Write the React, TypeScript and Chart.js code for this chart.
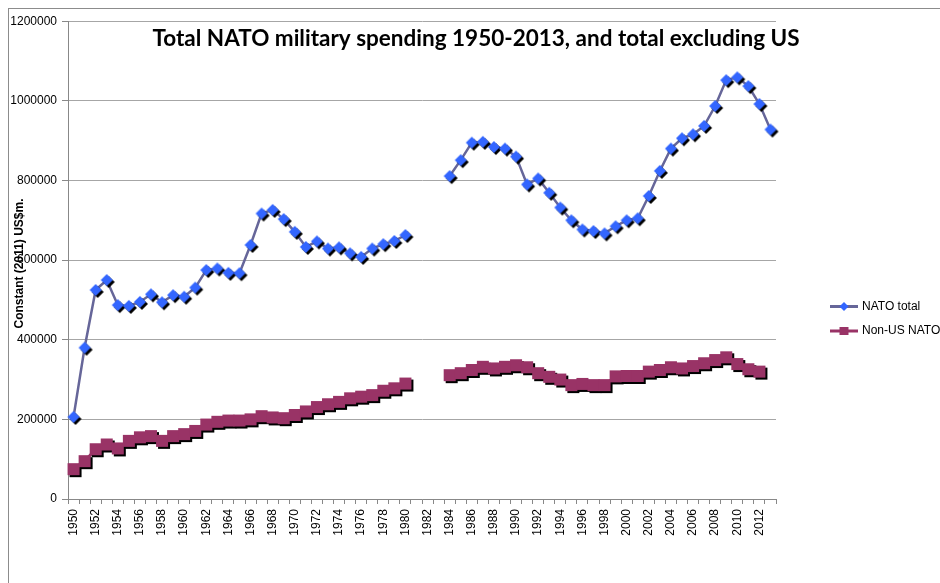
import { useEffect, useRef } from 'react';
import { Chart, registerables } from 'chart.js';

Chart.register(...registerables);

const years = [
  '1950', '1951', '1952', '1953', '1954', '1955', '1956', '1957', '1958', '1959',
  '1960', '1961', '1962', '1963', '1964', '1965', '1966', '1967', '1968', '1969',
  '1970', '1971', '1972', '1973', '1974', '1975', '1976', '1977', '1978', '1979',
  '1980', '1981', '1982', '1983', '1984', '1985', '1986', '1987', '1988', '1989',
  '1990', '1991', '1992', '1993', '1994', '1995', '1996', '1997', '1998', '1999',
  '2000', '2001', '2002', '2003', '2004', '2005', '2006', '2007', '2008', '2009',
  '2010', '2011', '2012', '2013',
];

const natoTotal: (number | null)[] = [
  206000, 380000, 525000, 550000, 487000, 485000, 495000, 514000, 494000, 512000,
  508000, 531000, 575000, 579000, 568000, 567000, 638000, 717000, 726000, 703000,
  671000, 633000, 647000, 629000, 632000, 617000, 608000, 629000, 640000, 648000,
  663000, null, null, null, 811000, 851000, 895000, 897000, 884000, 880000,
  860000, 790000, 805000, 769000, 732000, 700000, 677000, 673000, 667000, 685000,
  700000, 705000, 761000, 824000, 880000, 906000, 916000, 937000, 987000, 1052000,
  1059000, 1037000, 992000, 928000,
];

const nonUsNato: (number | null)[] = [
  75000, 95000, 125000, 137000, 127000, 146000, 155000, 158000, 146000, 158000,
  163000, 171000, 187000, 194000, 197000, 197000, 200000, 208000, 205000, 203000,
  211000, 220000, 231000, 238000, 244000, 253000, 257000, 261000, 272000, 278000,
  290000, null, null, null, 311000, 316000, 324000, 332000, 328000, 332000,
  336000, 331000, 316000, 307000, 300000, 286000, 289000, 286000, 286000, 308000,
  309000, 309000, 320000, 324000, 331000, 328000, 334000, 341000, 349000, 356000,
  339000, 326000, 320000, null,
];

const seriesNames = ['NATO total', 'Non-US NATO'];
const chartTitle = 'Total NATO military spending 1950-2013, and total excluding US';
const yAxisTitle = 'Constant (2011) US$m.';
const yMin = 0;
const yMax = 1200000;
const yStep = 200000;

const NATO_LINE = '#666699';
const NATO_MARK = '#3366FF';
const NONUS = '#993366';

function makeMarker(shape: 'diamond' | 'square', size: number, color: string, shadow: boolean) {
  const pad = 3;
  const half = size / 2;
  const dim = Math.ceil(2 * (half + pad));
  const c = document.createElement('canvas');
  c.width = dim;
  c.height = dim;
  const ctx = c.getContext('2d')!;
  const cx = dim / 2;
  const draw = (ox: number, oy: number, fill: string) => {
    ctx.fillStyle = fill;
    ctx.beginPath();
    if (shape === 'diamond') {
      ctx.moveTo(cx + ox, cx - half + oy);
      ctx.lineTo(cx + half + ox, cx + oy);
      ctx.lineTo(cx + ox, cx + half + oy);
      ctx.lineTo(cx - half + ox, cx + oy);
    } else {
      ctx.rect(cx - half + ox, cx - half + oy, size, size);
    }
    ctx.closePath();
    ctx.fill();
  };
  if (shadow) draw(2, 2, '#000');
  draw(0, 0, color);
  return c;
}

export default function App() {
  const ref = useRef<HTMLCanvasElement>(null);

  useEffect(() => {
    document.documentElement.style.overflow = 'hidden';
    document.body.style.margin = '0';
    if (!ref.current) return;

    const diamond = makeMarker('diamond', 12, NATO_MARK, true);
    const square = makeMarker('square', 12, NONUS, true);

    const overlay = {
      id: 'overlay',
      afterDraw(chart: any) {
        const ctx = chart.ctx as CanvasRenderingContext2D;
        ctx.save();
        // title
        ctx.fillStyle = '#000';
        ctx.font = 'bold 22.5px Lato';
        ctx.textAlign = 'center';
        ctx.textBaseline = 'middle';
        ctx.fillText(chartTitle, 467, 29.5);
        // y axis title
        ctx.save();
        ctx.translate(11, 254.5);
        ctx.rotate(-Math.PI / 2);
        ctx.font = 'bold 12px "Liberation Sans"';
        ctx.fillText(yAxisTitle, 0, 0);
        ctx.restore();
        // legend
        const items = [
          { name: seriesNames[0], line: NATO_LINE, y: 297.5, shape: 'diamond', fill: NATO_MARK },
          { name: seriesNames[1], line: NONUS, y: 322, shape: 'square', fill: NONUS },
        ];
        for (const it of items) {
          ctx.strokeStyle = it.line;
          ctx.lineWidth = 3;
          ctx.beginPath();
          ctx.moveTo(821, it.y);
          ctx.lineTo(849, it.y);
          ctx.stroke();
          ctx.fillStyle = it.fill;
          ctx.beginPath();
          if (it.shape === 'diamond') {
            ctx.moveTo(835, it.y - 4.5);
            ctx.lineTo(839.5, it.y);
            ctx.lineTo(835, it.y + 4.5);
            ctx.lineTo(830.5, it.y);
          } else {
            ctx.rect(830.5, it.y - 4, 9, 8);
          }
          ctx.closePath();
          ctx.fill();
          ctx.fillStyle = '#000';
          ctx.font = '12px "Liberation Sans"';
          ctx.textAlign = 'left';
          ctx.fillText(it.name, 853, it.y);
        }
        ctx.restore();
      },
    };

    const chart = new Chart(ref.current, {
      type: 'line',
      data: {
        labels: years,
        datasets: [
          {
            label: seriesNames[0],
            data: natoTotal,
            borderColor: NATO_LINE,
            borderWidth: 2.5,
            pointStyle: diamond as any,
            pointRadius: 6,
            spanGaps: false,
            tension: 0,
          },
          {
            label: seriesNames[1],
            data: nonUsNato,
            borderColor: NONUS,
            borderWidth: 3,
            pointStyle: square as any,
            pointRadius: 6,
            spanGaps: false,
            tension: 0,
          },
        ],
      },
      options: {
        responsive: false,
        animation: false,
        layout: { padding: { left: 0, top: 12, right: 164, bottom: 34 }, autoPadding: false },
        plugins: {
          legend: { display: false },
          title: { display: false },
          tooltip: { enabled: false },
        },
        scales: {
          x: {
            type: 'category',
            offset: true,
            grid: { offset: true, drawOnChartArea: false, drawTicks: true, tickLength: 5, color: '#888' },
            border: { color: '#888' },
            ticks: {
              autoSkip: false,
              maxRotation: 90,
              minRotation: 90,
              padding: 5,
              color: '#000',
              font: { family: 'Liberation Sans', size: 12 },
              callback: (_v: any, i: number) => (i % 2 === 0 ? years[i] : ''),
            },
            afterFit: (s: any) => {
              s.height = 50;
            },
          },
          y: {
            min: yMin,
            max: yMax,
            ticks: {
              stepSize: yStep,
              padding: 5,
              color: '#000',
              font: { family: 'Liberation Sans', size: 12 },
              callback: (v: any) => String(v),
            },
            grid: { color: '#a6a6a6', drawTicks: true, tickLength: 6, tickColor: '#888' },
            border: { color: '#888' },
            afterFit: (s: any) => {
              s.width = 59;
            },
          },
        },
      },
      plugins: [overlay],
    });
    return () => chart.destroy();
  }, []);

  return (
    <div style={{ width: 940, height: 583, paddingLeft: 8, paddingTop: 8, boxSizing: 'border-box', overflow: 'hidden' }}>
      <div
        style={{
          width: 932,
          height: 575,
          boxSizing: 'border-box',
          borderTop: '1px solid #8c8c8c',
          borderLeft: '1px solid #8c8c8c',
          overflow: 'hidden',
        }}
      >
        <canvas ref={ref} width={931} height={574} style={{ display: 'block' }} />
      </div>
    </div>
  );
}
